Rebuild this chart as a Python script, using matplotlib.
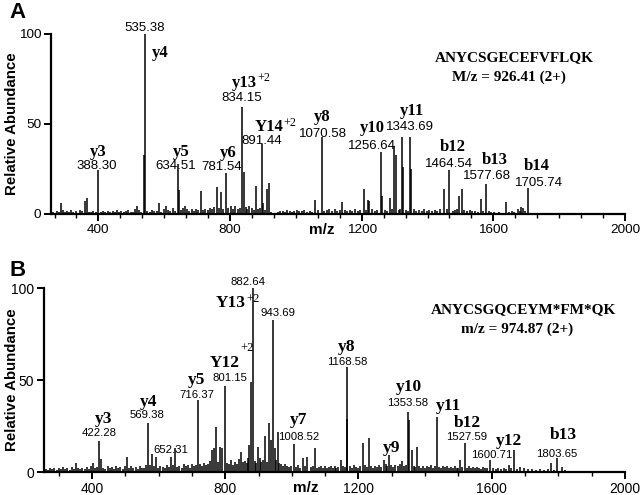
import matplotlib
matplotlib.use("Agg")
import matplotlib.pyplot as plt
from matplotlib.ticker import MultipleLocator

# ---------------- data: panel A ----------------
peaks_A_mz = [286, 358, 365, 399, 516, 540, 542.8, 584, 606, 641, 645, 664, 711, 759, 771, 787,
              836, 841, 880, 898, 901, 911, 917, 1059, 1078, 1139, 1206, 1220, 1223, 1259,
              1262, 1286, 1298, 1304, 1322, 1326, 1347, 1349, 1450, 1466, 1497, 1504, 1563,
              1577, 1639, 1675, 1685, 1690, 1706]
peaks_A_int = [5.9, 7.4, 9.0, 24.4, 4.4, 33, 100, 6.0, 4.4, 27.6, 13.3, 4.4, 13, 15, 12.4, 23,
               59.4, 23.5, 15.7, 38.9, 6, 13.9, 17, 7.8, 43, 6.8, 14, 8, 7.5, 34.6,
               10, 9, 37.8, 33, 42.6, 26, 42.6, 25, 14, 24.4, 10, 14, 8.3,
               16.7, 6.5, 3, 4, 3.5, 14.3]

noise_A_mz = [262, 268, 275, 281, 292, 298, 305, 311, 318, 324, 331, 337, 344, 350, 372, 378,
              385, 392, 408, 415, 421, 428, 436, 443, 450, 457, 463, 470, 477, 484, 491, 498,
              505, 511, 522, 528, 549, 556, 563, 570, 577, 591, 598, 612, 619, 626, 633, 652,
              657, 670, 676, 683, 690, 697, 704, 718, 725, 732, 739, 746, 752, 766, 779, 795,
              802, 809, 816, 823, 829, 847, 852, 859, 866, 872, 886, 892, 905, 925, 932, 939,
              946, 953, 960, 967, 974, 981, 988, 995, 1002, 1010, 1018, 1026, 1034, 1042, 1050,
              1066, 1086, 1094, 1102, 1110, 1118, 1126, 1134, 1148, 1156, 1164, 1172, 1180,
              1188, 1196, 1214, 1232, 1240, 1248, 1270, 1278, 1292, 1312, 1316, 1334, 1340,
              1358, 1366, 1374, 1382, 1390, 1398, 1406, 1414, 1422, 1430, 1438, 1458, 1476,
              1484, 1490, 1512, 1520, 1528, 1536, 1544, 1552, 1570, 1586, 1594, 1602, 1610,
              1618, 1626, 1648, 1656, 1664, 1680, 1696, 1700, 1716, 1740, 1770, 1800, 1830,
              1860, 1900, 1940, 1975]
noise_A_int = [1.2, 0.8, 1.5, 1.0, 2.0, 0.9, 1.4, 1.1, 2.2, 1.0, 1.6, 0.8, 2.5, 1.8, 1.3, 1.0,
               1.7, 1.2, 1.0, 1.4, 0.9, 1.8, 1.1, 1.5, 1.0, 2.0, 1.2, 1.6, 1.0, 1.9, 2.4, 1.3,
               1.1, 2.6, 2.2, 1.0, 1.8, 1.2, 2.5, 1.4, 1.6, 1.3, 2.8, 2.0, 1.5, 3.2, 1.8, 2.2,
               3.5, 2.6, 1.8, 2.9, 1.6, 3.0, 2.2, 2.5, 3.0, 2.0, 3.6, 2.7, 4.0, 3.2, 2.6, 3.4,
               4.2, 3.0, 4.5, 2.8, 3.6, 3.8, 2.6, 4.4, 3.2, 2.4, 2.8, 3.4, 2.0, 1.0, 0.6, 0.8,
               1.0, 1.4, 1.8, 1.2, 2.0, 1.5, 1.0, 1.6, 2.2, 1.4, 1.8, 2.5, 1.2, 1.6, 1.0,
               2.4, 1.8, 2.2, 2.6, 1.5, 2.8, 1.6, 2.0, 2.4, 1.6, 2.2, 1.4, 2.6,
               1.8, 2.2, 2.0, 2.8, 1.6, 2.4, 2.2, 1.8, 2.8, 2.0, 2.6, 2.4, 1.6,
               2.8, 1.8, 2.2, 1.5, 2.6, 1.8, 2.2, 1.6, 2.4, 1.8, 2.8, 2.6, 1.8,
               2.2, 2.8, 2.4, 1.6, 2.0, 1.5, 1.8, 1.2, 1.4, 1.6, 1.0, 1.2, 0.8,
               1.0, 0.8, 1.2, 1.6, 1.0, 1.4, 1.8, 0.8, 0.5, 0.6, 0.4, 0.5, 0.4,
               0.4, 0.5, 0.3, 0.4]

# ---------------- data: panel B ----------------
peaks_B_mz = [351, 402, 422, 427, 505, 568, 580, 593, 637, 650, 717, 760, 765, 772, 785, 790,
              800, 847, 872, 878, 882, 897, 920, 932, 937, 942, 948, 957, 1005, 1032, 1045,
              1068, 1148, 1165, 1167, 1213, 1232, 1276, 1293, 1331, 1348, 1352, 1360, 1376,
              1436, 1506, 1520, 1596, 1651, 1668, 1778, 1796, 1811]
peaks_B_int = [4.7, 4.7, 16.8, 7.0, 8.3, 26.8, 10, 8, 8.3, 12.9, 38.9, 12, 12.9, 24.6, 13.6, 12.9,
               46.6, 10.8, 14.8, 49, 100, 13.4, 19.8, 26.6, 17.4, 82.6, 12.9, 21.6, 15.2, 7.4, 8.3,
               13.2, 6.5, 57.2, 29, 15.6, 18.3, 6.5, 9.2, 6, 32.8, 28, 12, 13.8,
               30, 6.5, 15.6, 6.5, 3.8, 12, 4.7, 7.4, 2.5]

noise_B_mz = [262, 268, 274, 281, 287, 294, 300, 306, 313, 320, 326, 333, 339, 345, 358, 364,
              371, 378, 384, 390, 396, 410, 416, 434, 440, 447, 453, 460, 466, 472, 479, 485,
              492, 498, 511, 518, 524, 531, 537, 544, 550, 556, 562, 574, 586, 599, 605, 612,
              618, 624, 630, 643, 656, 662, 669, 675, 681, 688, 694, 700, 706, 711, 724, 730,
              736, 742, 748, 754, 778, 806, 812, 818, 824, 830, 836, 841, 853, 858, 864, 868,
              888, 892, 903, 908, 914, 926, 952, 962, 968, 974, 980, 986, 992, 998, 1012,
              1018, 1024, 1038, 1056, 1062, 1074, 1080, 1086, 1092, 1098, 1104, 1110, 1116,
              1122, 1128, 1134, 1140, 1154, 1160, 1174, 1180, 1186, 1192, 1198, 1204, 1220,
              1226, 1238, 1244, 1250, 1256, 1262, 1268, 1282, 1287, 1299, 1305, 1311, 1318,
              1324, 1338, 1343, 1366, 1370, 1382, 1388, 1394, 1400, 1406, 1412, 1418, 1424,
              1430, 1442, 1448, 1454, 1460, 1466, 1472, 1478, 1484, 1490, 1496, 1500, 1512,
              1526, 1532, 1538, 1544, 1550, 1556, 1562, 1568, 1574, 1580, 1586, 1604, 1612,
              1620, 1628, 1636, 1644, 1658, 1676, 1686, 1696, 1708, 1720, 1732, 1744, 1756,
              1768, 1786, 1820, 1838, 1860, 1890, 1930, 1965]
noise_B_int = [1.6, 1.0, 2.0, 1.4, 2.4, 1.2, 2.0, 1.6, 2.6, 1.4, 2.2, 1.0, 2.8, 1.8, 2.4, 1.6,
               2.0, 1.4, 2.6, 1.8, 3.0, 2.2, 2.8, 2.4, 1.6, 3.0, 2.0, 2.6, 1.8, 3.2, 2.2, 2.8,
               1.6, 3.4, 2.4, 3.0, 2.0, 2.8, 1.8, 3.2, 2.4, 2.0, 3.6, 4.0, 3.0, 2.4, 3.4, 2.8,
               2.0, 3.8, 2.6, 4.0, 2.8, 3.4, 2.2, 4.2, 3.0, 3.6, 2.4, 4.6, 3.2, 3.8, 4.4, 3.0,
               5.0, 3.6, 4.2, 6.0, 5.5, 5.0, 4.4, 6.5, 3.8, 5.2, 4.6, 7.0, 5.4, 6.0, 4.8, 7.5,
               6.2, 5.0, 7.8, 5.6, 6.4, 5.2, 6.6, 5.0, 4.2, 3.4, 4.6, 3.0, 2.6, 3.4, 2.8,
               3.6, 2.4, 3.0, 2.6, 3.2, 2.2, 2.8, 3.4, 2.4, 3.0, 2.0, 2.8, 3.2,
               2.4, 3.0, 2.2, 2.8, 3.4, 2.6, 3.0, 2.2, 3.6, 2.8, 2.4, 3.2, 3.6,
               2.6, 3.0, 2.4, 3.4, 2.8, 3.8, 2.6, 4.6, 3.4, 4.0, 2.8, 3.6, 3.0,
               4.4, 3.2, 3.8, 3.0, 2.6, 3.4, 2.4, 3.0, 2.2, 3.2, 2.6, 3.6, 2.4,
               3.0, 2.8, 2.4, 3.2, 2.6, 3.0, 2.2, 2.8, 2.0, 3.4, 2.4, 2.0, 2.8,
               2.4, 3.0, 2.2, 2.6, 2.0, 2.8, 2.4, 1.8, 2.6, 2.0, 2.4, 2.2, 1.8,
               2.4, 1.6, 2.0, 1.8, 2.2, 1.6, 2.6, 2.0, 1.4, 1.8, 1.2, 1.6, 1.0,
               1.4, 1.2, 1.0, 0.8, 0.8, 0.6, 0.5, 0.4]

# ---------------- annotations ----------------
ions_A = [("y3", 400, 34.6), ("y4", 588, 89.4), ("y5", 651, 34.6), ("y6", 794, 33.8),
          ("y8", 1079, 53.9), ("y10", 1232, 47.6), ("y11", 1352, 57.2),
          ("b12", 1478, 37.4), ("b13", 1605, 30.0), ("b14", 1732, 26.7)]
sup_A = [("y13", "+2", 883, 72.9, 75.5), ("Y14", "+2", 962, 48.2, 50.6)]
mass_A = [("388.30", 396, 26.8), ("535.38", 541, 103.3), ("634.51", 635, 26.8),
          ("781.54", 774, 26.0), ("834.15", 836, 64.4), ("891.44", 897, 40.6),
          ("1070.58", 1082, 44.4), ("1256.64", 1230, 37.8), ("1343.69", 1346, 48.2),
          ("1464.54", 1466, 27.8), ("1577.68", 1580, 21.3), ("1705.74", 1739, 17.4)]
seq_A = ("ANYCSGECEFVFLQK", "M/z = 926.41 (2+)", 1663, 1648, 87.0, 75.8)

ions_B = [("y3", 435, 28.6), ("y4", 570, 38.2), ("y5", 715, 50.0), ("y7", 1020, 28.3),
          ("y8", 1165, 68.0), ("y9", 1298, 12.9), ("y10", 1350, 46.4), ("y11", 1470, 36.0),
          ("b12", 1526, 26.8), ("y12", 1653, 17.0), ("b13", 1816, 20.0)]
sup_B = [("Y13", "+2", 862, 92.0, 94.0), ("Y12", "+2", 845, 59.0, 67.4)]
mass_B = [("422.28", 422, 21.4), ("569.38", 566, 31.0), ("652.31", 637, 12.0),
          ("716.37", 715, 41.8), ("801.15", 815, 50.9), ("882.64", 867, 103.1),
          ("943.69", 958, 86.2), ("1008.52", 1020, 18.9), ("1168.58", 1165, 60.0),
          ("1353.58", 1347, 37.3), ("1527.59", 1524, 19.2), ("1600.71", 1601, 9.2),
          ("1803.65", 1796, 9.6)]
seq_B = ("ANYCSGQCEYM*FM*QK", "m/z = 974.87 (2+)", 1696, 1676, 88.0, 77.6)

SERIF = "Liberation Serif"
SANS = "Liberation Sans"

fig = plt.figure(figsize=(6.4, 4.95), dpi=100)
axA = fig.add_axes([51 / 640, 1 - 214 / 495, (625 - 51) / 640, 180 / 495])
axB = fig.add_axes([44 / 640, 1 - 472 / 495, (625 - 44) / 640, 184 / 495])


def style_axis(ax, minor_step, tick_fs, ylab_x):
    ax.set_xlim(256, 2000)
    ax.set_ylim(0, 100)
    for s in ("top", "right"):
        ax.spines[s].set_visible(False)
    for s in ("left", "bottom"):
        ax.spines[s].set_linewidth(1.6)
    ax.set_yticks([0, 50, 100])
    ax.set_xticks([400, 800, 1200, 1600, 2000])
    ax.xaxis.set_minor_locator(MultipleLocator(minor_step))
    ax.tick_params(axis="both", which="major", direction="out", length=5, width=1.4,
                   labelsize=tick_fs, pad=2)
    ax.tick_params(axis="x", which="minor", direction="out", length=3, width=1.0)
    for lab in ax.get_xticklabels() + ax.get_yticklabels():
        lab.set_fontfamily(SANS)
    ax.set_ylabel("Relative Abundance", fontfamily=SANS, fontweight="bold", fontsize=10.8)
    ax.yaxis.set_label_coords(ylab_x, 0.5)


def draw_panel(ax, pmz, pint, nmz, nint, ions, sups, masses, seq, mass_fs, ion_fs):
    ax.vlines(nmz, 0, nint, color="black", lw=1.1)
    ax.vlines(pmz, 0, pint, color="black", lw=1.1, clip_on=False)
    for t, x, y in ions:
        ax.text(x, y, t, fontfamily=SERIF, fontweight="bold", fontsize=ion_fs,
                ha="center", va="center", clip_on=False)
    for main, sup, x, y, ysup in sups:
        ax.text(x, y, main, fontfamily=SERIF, fontweight="bold", fontsize=ion_fs,
                ha="right", va="center", clip_on=False)
        ax.text(x, ysup, sup, fontfamily=SERIF, fontsize=ion_fs * 0.72,
                ha="left", va="center", clip_on=False)
    for t, x, y in masses:
        ax.text(x, y, t, fontfamily=SANS, fontsize=mass_fs, ha="center", va="center",
                clip_on=False)
    s1, s2, x1, x2, y1, y2 = seq
    ax.text(x1, y1, s1, fontfamily=SERIF, fontweight="bold", fontsize=11, ha="center",
            va="center")
    ax.text(x2, y2, s2, fontfamily=SERIF, fontweight="bold", fontsize=11, ha="center",
            va="center")


style_axis(axA, 400 / 6, 9.7, (19 - 51) / 574)
style_axis(axB, 100, 10, (19 - 44) / 581)
draw_panel(axA, peaks_A_mz, peaks_A_int, noise_A_mz, noise_A_int, ions_A, sup_A, mass_A,
           seq_A, 9.5, 12)
draw_panel(axB, peaks_B_mz, peaks_B_int, noise_B_mz, noise_B_int, ions_B, sup_B, mass_B,
           seq_B, 8.2, 12.5)

fig.text(322 / 640, 1 - 230 / 495, "m/z", fontfamily=SANS, fontweight="bold", fontsize=11,
         ha="center", va="center")
fig.text(306 / 640, 1 - 488 / 495, "m/z", fontfamily=SANS, fontweight="bold", fontsize=11,
         ha="center", va="center")
fig.text(17 / 640, 1 - 13 / 495, "A", fontfamily=SANS, fontweight="bold", fontsize=16,
         ha="center", va="center")
fig.text(18 / 640, 1 - 270 / 495, "B", fontfamily=SANS, fontweight="bold", fontsize=16,
         ha="center", va="center")

fig.savefig("out.png", dpi=100)
